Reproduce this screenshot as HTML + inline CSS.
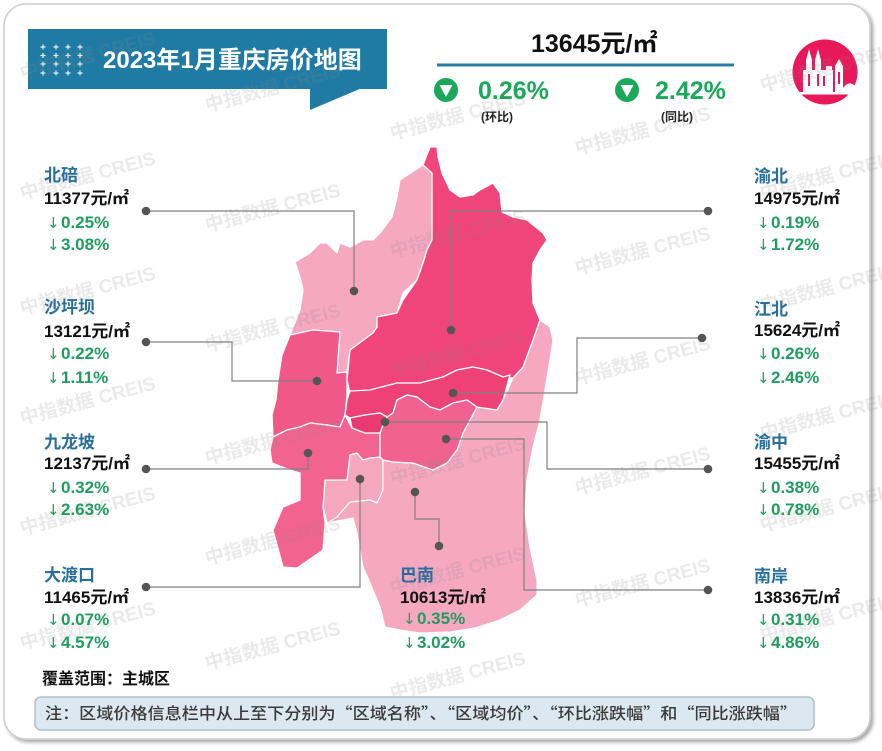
<!DOCTYPE html>
<html><head><meta charset="utf-8"><style>
html,body{margin:0;padding:0;background:#fff;}
svg{display:block;}
.cj{font-family:"Liberation Sans","Noto Sans CJK SC",sans-serif;}
.nm{font-size:17px;font-weight:bold;fill:#2a6e9c;}
.pr{font-size:17px;font-weight:bold;fill:#111;}
.pc{font-size:17px;font-weight:bold;fill:#1e9e5e;}
.ar{font-family:"DejaVu Sans",sans-serif;font-size:15px;font-weight:normal;fill:#1e9e5e;}
.wm{font-family:"Liberation Sans","Noto Sans CJK SC",sans-serif;font-size:19px;font-weight:bold;fill:#8a8a8a;opacity:0.17;}
</style></head><body>
<svg width="882" height="751" viewBox="0 0 882 751" xmlns="http://www.w3.org/2000/svg">
<defs>
<filter id="sh" x="-5%" y="-5%" width="110%" height="110%">
<feDropShadow dx="2.5" dy="2.5" stdDeviation="1.8" flood-color="#000" flood-opacity="0.35"/>
</filter>
</defs>
<rect x="4" y="4" width="866" height="735" rx="22" fill="#fff" stroke="#cdcdcd" stroke-width="1.5" filter="url(#sh)"/>

<!-- Title banner -->
<rect x="28" y="29" width="359" height="60" fill="#1f7ba3"/>
<polygon points="310,88 310,110 362,88" fill="#1f7ba3"/>
<g stroke="#fff" stroke-width="1.2" opacity="0.9">
<path d="M40.5,47H45.5M43,44.5V49.5 M53.5,47H58.5M56,44.5V49.5 M65.5,47H70.5M68,44.5V49.5 M77.5,47H82.5M80,44.5V49.5"/>
<path d="M40.5,55.5H45.5M43,53V58 M53.5,55.5H58.5M56,53V58 M65.5,55.5H70.5M68,53V58 M77.5,55.5H82.5M80,53V58"/>
<path d="M40.5,64H45.5M43,61.5V66.5 M53.5,64H58.5M56,61.5V66.5 M65.5,64H70.5M68,61.5V66.5 M77.5,64H82.5M80,61.5V66.5"/>
<path d="M40.5,73H45.5M43,70.5V75.5 M53.5,73H58.5M56,70.5V75.5 M65.5,73H70.5M68,70.5V75.5 M77.5,73H82.5M80,70.5V75.5"/>
</g>
<text x="103" y="68" class="cj" font-size="24" font-weight="bold" fill="#fff">2023年1月重庆房价地图</text>

<!-- Top summary -->
<text x="531" y="52" class="cj" font-size="25" font-weight="bold" fill="#111">13645元/㎡</text>
<line x1="437" y1="65" x2="734" y2="65" stroke="#2a7ca3" stroke-width="3"/>
<circle cx="446" cy="90" r="12" fill="#1aa85a"/>
<polygon points="439.5,85 452.5,85 446,97" fill="#fff"/>
<text x="478" y="99" class="cj" font-size="25" font-weight="bold" fill="#1aa85a">0.26%</text>
<text x="481" y="121" class="cj" font-size="12" font-weight="bold" fill="#222">(环比)</text>
<circle cx="627" cy="90" r="12" fill="#1aa85a"/>
<polygon points="620.5,85 633.5,85 627,97" fill="#fff"/>
<text x="655" y="99" class="cj" font-size="25" font-weight="bold" fill="#1aa85a">2.42%</text>
<text x="661" y="121" class="cj" font-size="12" font-weight="bold" fill="#222">(同比)</text>

<!-- Icon -->
<circle cx="825" cy="72" r="32.5" fill="#e8195b"/>
<g fill="#fff">
<polygon points="806,93 806,60 809,49 812,60 812,93"/>
<polygon points="815,93 815,60 818,49 821,60 821,93"/>
<rect x="803" y="70" width="30" height="23"/>
<rect x="826" y="66" width="6" height="27"/>
<polygon points="835,93 835,66 839,59 843,66 843,93"/>
<path d="M843,93 L843,88 Q849,80 855,86 L858,93 Z"/>
<rect x="798" y="92" width="62" height="2.5"/>
</g>
<g fill="#e8195b">
<rect x="808" y="74" width="2" height="12"/><rect x="817" y="74" width="2" height="12"/><rect x="823" y="76" width="2" height="10"/><rect x="838" y="72" width="2" height="12"/>
</g>

<!-- Map -->
<g stroke="#fff" stroke-width="1.3" stroke-linejoin="round">
<polygon fill="#f6a8c1" points="540,320 550,327 553,340 550,360 545,390 540,420 533,447 527,480 525,513 530,547 537,580 537,595 520,610 500,620 475,628 450,632 420,633 400,630 385,627 380,607 370,583 363,567 357,533 353,518 327,523 323,507 325,480 347,480 350,455 357,453 363,460 370,458 380,457 383,460 393,462 413,463 433,470 447,463 457,450 463,433 477,407 497,410 503,400 513,378 523,367 533,340"/>
<polygon fill="#f6a8c1" points="423,165 432,173 432,240 427,250 423,263 417,280 403,293 400,303 397,313 377,317 377,327 373,333 350,350 347,372 337,373 340,332 313,330 290,335 300,310 303,290 300,277 295,262 310,253 320,243 327,243 337,253 340,243 350,247 363,240 373,240 380,233 392,217 397,197 400,180"/>
<polygon fill="#f0457a" points="430,147 437,147 438,157 442,173 450,190 460,197 473,195 480,190 493,183 500,193 502,212 513,217 527,220 543,233 547,240 540,250 533,263 532,280 533,303 540,320 533,340 523,367 513,378 503,377 487,370 473,367 457,370 443,377 420,383 397,383 370,390 350,393 347,380 350,350 373,333 377,327 377,317 397,313 403,300 417,280 423,263 427,250 432,240 432,173 423,165"/>
<polygon fill="#ee4176" points="347,400 350,391 370,390 397,383 420,383 443,377 457,370 473,367 487,370 503,377 510,375 503,400 497,410 477,407 467,400 453,403 440,410 430,407 417,397 407,395 397,400 393,413 387,417 380,413 365,415 350,418 345,415"/>
<polygon fill="#f1588a" points="290,335 313,330 340,332 337,373 347,372 347,395 345,415 340,427 327,425 310,423 300,427 287,430 273,437 272,415 276,400 278,380 282,355"/>
<polygon fill="#f26390" points="273,437 287,430 300,427 310,423 327,425 340,427 345,415 352,428 365,433 380,433 380,457 370,458 363,460 357,453 350,455 347,480 325,480 323,507 325,523 323,550 297,568 283,567 273,530 283,507 300,500 300,473 290,470 272,463 270,450"/>
<polygon fill="#f0628f" points="387,417 393,413 397,400 407,395 417,397 430,407 440,410 453,403 467,400 477,407 463,433 457,450 447,463 433,470 413,463 393,462 383,460 380,457 380,433 383,425"/>
<polygon fill="#e93b70" points="350,418 365,415 380,413 387,417 383,425 380,433 365,433 352,428"/>
<path d="M327,523 L337,517 L350,502 L370,500 L377,503 L383,490 L383,460" fill="none"/>
</g>

<!-- Watermarks -->
<g>
<text class="wm" x="22" y="80" transform="rotate(-15 22 80)">中指数据 CREIS</text>
<text class="wm" x="22" y="200" transform="rotate(-15 22 200)">中指数据 CREIS</text>
<text class="wm" x="22" y="315" transform="rotate(-15 22 315)">中指数据 CREIS</text>
<text class="wm" x="22" y="425" transform="rotate(-15 22 425)">中指数据 CREIS</text>
<text class="wm" x="22" y="535" transform="rotate(-15 22 535)">中指数据 CREIS</text>
<text class="wm" x="22" y="650" transform="rotate(-15 22 650)">中指数据 CREIS</text>
<text class="wm" x="207" y="112" transform="rotate(-15 207 112)">中指数据 CREIS</text>
<text class="wm" x="207" y="232" transform="rotate(-15 207 232)">中指数据 CREIS</text>
<text class="wm" x="207" y="352" transform="rotate(-15 207 352)">中指数据 CREIS</text>
<text class="wm" x="207" y="465" transform="rotate(-15 207 465)">中指数据 CREIS</text>
<text class="wm" x="207" y="565" transform="rotate(-15 207 565)">中指数据 CREIS</text>
<text class="wm" x="207" y="670" transform="rotate(-15 207 670)">中指数据 CREIS</text>
<text class="wm" x="392" y="140" transform="rotate(-15 392 140)">中指数据 CREIS</text>
<text class="wm" x="392" y="258" transform="rotate(-15 392 258)">中指数据 CREIS</text>
<text class="wm" x="392" y="378" transform="rotate(-15 392 378)">中指数据 CREIS</text>
<text class="wm" x="392" y="485" transform="rotate(-15 392 485)">中指数据 CREIS</text>
<text class="wm" x="392" y="595" transform="rotate(-15 392 595)">中指数据 CREIS</text>
<text class="wm" x="392" y="700" transform="rotate(-15 392 700)">中指数据 CREIS</text>
<text class="wm" x="577" y="155" transform="rotate(-15 577 155)">中指数据 CREIS</text>
<text class="wm" x="577" y="275" transform="rotate(-15 577 275)">中指数据 CREIS</text>
<text class="wm" x="577" y="385" transform="rotate(-15 577 385)">中指数据 CREIS</text>
<text class="wm" x="577" y="495" transform="rotate(-15 577 495)">中指数据 CREIS</text>
<text class="wm" x="577" y="607" transform="rotate(-15 577 607)">中指数据 CREIS</text>
<text class="wm" x="762" y="92" transform="rotate(-15 762 92)">中指数据 CREIS</text>
<text class="wm" x="762" y="200" transform="rotate(-15 762 200)">中指数据 CREIS</text>
<text class="wm" x="762" y="312" transform="rotate(-15 762 312)">中指数据 CREIS</text>
<text class="wm" x="762" y="440" transform="rotate(-15 762 440)">中指数据 CREIS</text>
<text class="wm" x="762" y="532" transform="rotate(-15 762 532)">中指数据 CREIS</text>
<text class="wm" x="762" y="642" transform="rotate(-15 762 642)">中指数据 CREIS</text>
</g>

<!-- Leader lines -->
<g stroke="#808080" stroke-width="1.2" fill="none">
<path d="M146,211 H354 V291"/>
<path d="M708,211 H451 V330"/>
<path d="M146,342 H232 V381 H317"/>
<path d="M702,338 H577 V393 H453"/>
<path d="M146,469 H308 V453"/>
<path d="M708,469 H547 V422 H385"/>
<path d="M146,587 H360 V479"/>
<path d="M708,590 H524 V439 H446"/>
<path d="M415,492 V519 H439 V546"/>
</g>
<g fill="#555">
<circle cx="146" cy="211" r="4.3"/><circle cx="354" cy="291" r="4.3"/>
<circle cx="708" cy="211" r="4.3"/><circle cx="451" cy="330" r="4.3"/>
<circle cx="146" cy="342" r="4.3"/><circle cx="317" cy="381" r="4.3"/>
<circle cx="702" cy="338" r="4.3"/><circle cx="453" cy="393" r="4.3"/>
<circle cx="146" cy="469" r="4.3"/><circle cx="308" cy="453" r="4.3"/>
<circle cx="708" cy="469" r="4.3"/><circle cx="385" cy="422" r="4.3"/>
<circle cx="146" cy="587" r="4.3"/><circle cx="360" cy="479" r="4.3"/>
<circle cx="708" cy="590" r="4.3"/><circle cx="446" cy="439" r="4.3"/>
<circle cx="415" cy="492" r="4.3"/><circle cx="439" cy="546" r="4.3"/>
</g>

<!-- Left labels -->
<g class="cj">
<text x="44" y="181" class="nm">北碚</text>
<text x="44" y="204" class="pr">11377元/㎡</text>
<text x="47" y="228" class="ar">↓</text><text x="61" y="228" class="pc">0.25%</text>
<text x="47" y="250" class="ar">↓</text><text x="61" y="250" class="pc">3.08%</text>

<text x="44" y="313" class="nm">沙坪坝</text>
<text x="44" y="337" class="pr">13121元/㎡</text>
<text x="47" y="359" class="ar">↓</text><text x="61" y="359" class="pc">0.22%</text>
<text x="47" y="383" class="ar">↓</text><text x="61" y="383" class="pc">1.11%</text>

<text x="44" y="448" class="nm">九龙坡</text>
<text x="44" y="469" class="pr">12137元/㎡</text>
<text x="47" y="493" class="ar">↓</text><text x="61" y="493" class="pc">0.32%</text>
<text x="47" y="515" class="ar">↓</text><text x="61" y="515" class="pc">2.63%</text>

<text x="44" y="581" class="nm">大渡口</text>
<text x="44" y="603" class="pr">11465元/㎡</text>
<text x="47" y="625" class="ar">↓</text><text x="61" y="625" class="pc">0.07%</text>
<text x="47" y="648" class="ar">↓</text><text x="61" y="648" class="pc">4.57%</text>
</g>

<!-- Right labels -->
<g class="cj">
<text x="754" y="182" class="nm">渝北</text>
<text x="754" y="204" class="pr">14975元/㎡</text>
<text x="757" y="228" class="ar">↓</text><text x="771" y="228" class="pc">0.19%</text>
<text x="757" y="250" class="ar">↓</text><text x="771" y="250" class="pc">1.72%</text>

<text x="754" y="315" class="nm">江北</text>
<text x="754" y="336" class="pr">15624元/㎡</text>
<text x="757" y="359" class="ar">↓</text><text x="771" y="359" class="pc">0.26%</text>
<text x="757" y="383" class="ar">↓</text><text x="771" y="383" class="pc">2.46%</text>

<text x="754" y="448" class="nm">渝中</text>
<text x="754" y="469" class="pr">15455元/㎡</text>
<text x="757" y="493" class="ar">↓</text><text x="771" y="493" class="pc">0.38%</text>
<text x="757" y="515" class="ar">↓</text><text x="771" y="515" class="pc">0.78%</text>

<text x="754" y="582" class="nm">南岸</text>
<text x="754" y="603" class="pr">13836元/㎡</text>
<text x="757" y="625" class="ar">↓</text><text x="771" y="625" class="pc">0.31%</text>
<text x="757" y="648" class="ar">↓</text><text x="771" y="648" class="pc">4.86%</text>

<text x="400" y="581" class="nm">巴南</text>
<text x="400" y="603" class="pr">10613元/㎡</text>
<text x="403" y="624" class="ar">↓</text><text x="417" y="624" class="pc">0.35%</text>
<text x="403" y="648" class="ar">↓</text><text x="417" y="648" class="pc">3.02%</text>
</g>

<!-- Footer -->
<text x="42" y="684" class="cj" font-size="16" font-weight="bold" fill="#111">覆盖范围：主城区</text>
<rect x="35" y="697" width="779" height="33" rx="6" fill="#dce8ef" stroke="#aebfcb" stroke-width="1.5"/>
<text x="45" y="719" font-family="'Noto Sans CJK SC','WenQuanYi Zen Hei',sans-serif" font-size="16" font-weight="500" fill="#3a3a3a" textLength="752" lengthAdjust="spacingAndGlyphs">注：区域价格信息栏中从上至下分别为“区域名称”、“区域均价”、“环比涨跌幅”和“同比涨跌幅”</text>
</svg>
</body></html>
